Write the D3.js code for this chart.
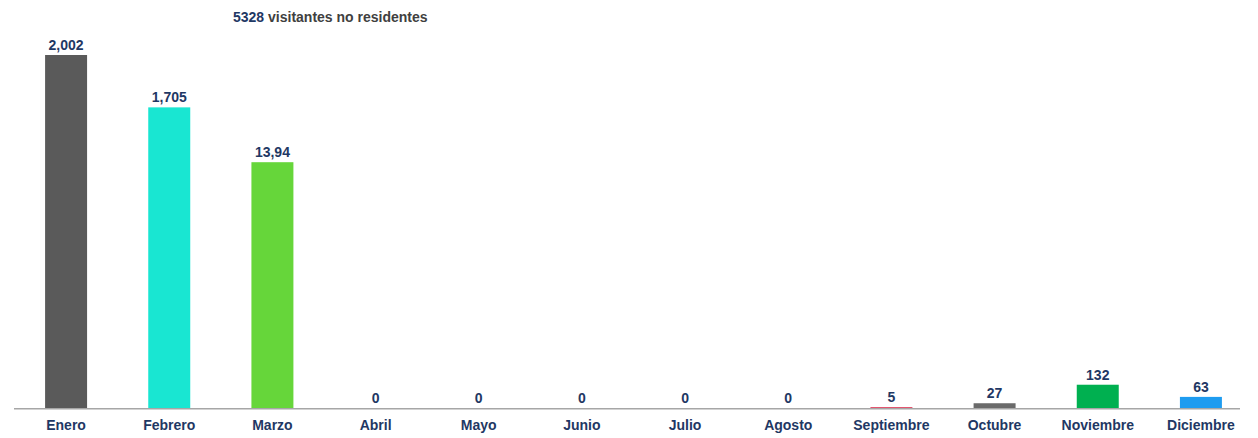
<!DOCTYPE html>
<html>
<head>
<meta charset="utf-8">
<script src="https://cdn.jsdelivr.net/npm/d3@7"></script>
<style>
  body { margin: 0; background: #fff; }
  svg { display: block; font-family: "Liberation Sans", Arial, sans-serif; }
</style>
</head>
<body>
<div id="chart"></div>
<script>
const months = ['Enero', 'Febrero', 'Marzo', 'Abril', 'Mayo', 'Junio', 'Julio', 'Agosto', 'Septiembre', 'Octubre', 'Noviembre', 'Diciembre'];
const visitors = [2002, 1705, 1394, 0, 0, 0, 0, 0, 5, 27, 132, 63];
const valueLabels = ['2,002', '1,705', '13,94', '0', '0', '0', '0', '0', '5', '27', '132', '63'];
const barColors = ['#5a5a5a', '#19e6d2', '#66d63a', '#999', '#999', '#999', '#999', '#999', '#e0405e', '#6a6a6a', '#00b050', '#1e9cf0'];
const titleNumber = '5328';
const titleText = ' visitantes no residentes';

const width = 1258, height = 438;
const baseY = 408, topY = 55;

let svg = d3.select('#chart').append('svg')
    .attr('width', width)
    .attr('height', height);

let x = d3.scaleBand()
    .domain(months)
    .range([14.5, 1252.5])
    .paddingInner(0.593)
    .paddingOuter(0.2965);

let y = d3.scaleLinear()
    .domain([0, d3.max(visitors)])
    .range([baseY, topY]);

// title
let title = svg.append('text')
    .attr('x', 233)
    .attr('y', 22)
    .style('font-size', '14px')
    .style('font-weight', 'bold');
title.append('tspan').attr('fill', '#1f3864').text(titleNumber);
title.append('tspan').attr('fill', '#404040').text(titleText);

// axis line (under the bars)
svg.append('line')
    .attr('x1', 14)
    .attr('x2', 1240)
    .attr('y1', baseY + 0.75)
    .attr('y2', baseY + 0.75)
    .attr('stroke', '#a6a6a6')
    .attr('stroke-width', 1.5);

// bars
svg.selectAll('rect.bar')
    .data(months)
    .join('rect')
    .attr('class', 'bar')
    .attr('x', d => x(d))
    .attr('width', x.bandwidth())
    .attr('y', (d, i) => y(visitors[i]))
    .attr('height', (d, i) => baseY - y(visitors[i]))
    .attr('fill', (d, i) => barColors[i]);

// value labels
svg.selectAll('text.val')
    .data(months)
    .join('text')
    .attr('class', 'val')
    .attr('x', d => x(d) + x.bandwidth() / 2)
    .attr('y', (d, i) => y(visitors[i]) - 5)
    .attr('text-anchor', 'middle')
    .attr('fill', '#1f3864')
    .style('font-size', '14px')
    .style('font-weight', 'bold')
    .text((d, i) => valueLabels[i]);

// month labels
svg.selectAll('text.month')
    .data(months)
    .join('text')
    .attr('class', 'month')
    .attr('x', d => x(d) + x.bandwidth() / 2)
    .attr('y', 430)
    .attr('text-anchor', 'middle')
    .attr('fill', '#1f3864')
    .style('font-size', '14px')
    .style('font-weight', 'bold')
    .text(d => d);
</script>
</body>
</html>
